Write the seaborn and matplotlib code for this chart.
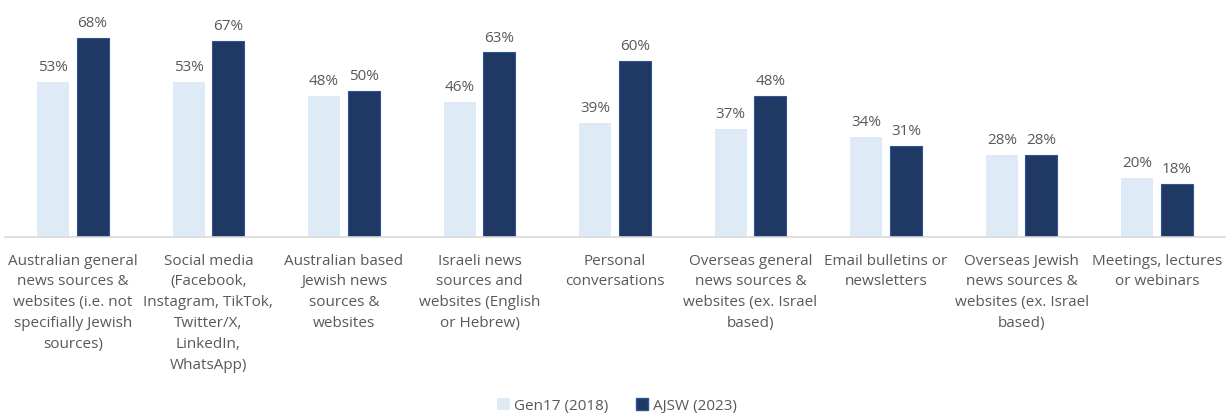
import matplotlib
matplotlib.use("Agg")
import matplotlib.pyplot as plt
import seaborn as sns
import pandas as pd
from matplotlib.patches import Patch

categories = [
    "Australian general\nnews sources &\nwebsites (i.e. not\nspecifially Jewish\nsources)",
    "Social media\n(Facebook,\nInstagram, TikTok,\nTwitter/X,\nLinkedIn,\nWhatsApp)",
    "Australian based\nJewish news\nsources &\nwebsites",
    "Israeli news\nsources and\nwebsites (English\nor Hebrew)",
    "Personal\nconversations",
    "Overseas general\nnews sources &\nwebsites (ex. Israel\nbased)",
    "Email bulletins or\nnewsletters",
    "Overseas Jewish\nnews sources &\nwebsites (ex. Israel\nbased)",
    "Meetings, lectures\nor webinars",
]
series_names = ["Gen17 (2018)", "AJSW (2023)"]
gen17 = [53, 53, 48, 46, 39, 37, 34, 28, 20]
ajsw = [68, 67, 50, 63, 60, 48, 31, 28, 18]

colors = ["#DEEAF6", "#203864"]
text_color = "#595959"

df = pd.DataFrame({
    "category": categories * 2,
    "series": [series_names[0]] * len(categories) + [series_names[1]] * len(categories),
    "value": gen17 + ajsw,
})

sns.set_style("white")
plt.rcParams["font.family"] = ["Open Sans", "DejaVu Sans"]

fig = plt.figure(figsize=(12.31, 4.15), dpi=100)
ax = fig.add_axes([5 / 1231, (415 - 237) / 415, 1220 / 1231, 227 / 415])

sns.barplot(data=df, x="category", y="value", hue="series", order=categories,
            hue_order=series_names, palette=colors, width=0.584, gap=0.19,
            ax=ax, legend=False, saturation=1)

for i, patch in enumerate(ax.patches):
    if i >= len(categories):
        patch.set_edgecolor("#2F5597")
        patch.set_linewidth(0.8)
    else:
        patch.set_edgecolor("none")

for container in ax.containers:
    ax.bar_label(container, labels=[f"{v:.0f}%" for v in container.datavalues],
                 padding=5, fontsize=11, color=text_color)

ax.set_ylim(0, 77.5)
ax.set_xlim(-0.5, len(categories) - 0.5)
ax.set_yticks([])
ax.set_xlabel("")
ax.set_ylabel("")
for side in ["top", "right", "left"]:
    ax.spines[side].set_visible(False)
ax.spines["bottom"].set_color("#D9D9D9")
ax.spines["bottom"].set_linewidth(1.2)
ax.tick_params(axis="x", length=0, pad=12)
ax.set_xticklabels(categories, fontsize=11, color=text_color, linespacing=1.53)

handles = [Patch(facecolor=colors[0], edgecolor="none"),
           Patch(facecolor=colors[1], edgecolor="#2F5597")]
fig.legend(handles, series_names, loc="center", bbox_to_anchor=(617 / 1231, 1 - 406 / 415),
           ncol=2, frameon=False, fontsize=11, labelcolor=text_color,
           handlelength=0.8, handleheight=0.8, handletextpad=0.3, columnspacing=1.8)

fig.savefig("out.png", dpi=100)
